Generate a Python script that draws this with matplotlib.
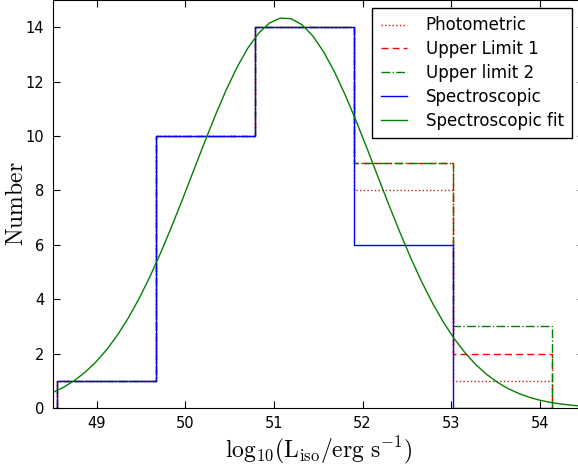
import numpy as np
import matplotlib
matplotlib.use("Agg")
import matplotlib.pyplot as plt

# bin edges in log10(L_iso)
edges = [48.55, 49.67, 50.79, 51.90, 53.02, 54.14]

photometric = [1, 10, 14, 8, 1]
upper_1 = [1, 10, 14, 9, 2]
upper_2 = [1, 10, 14, 9, 3]
spectroscopic = [1, 10, 14, 6, 0]

# gaussian fit to the spectroscopic sample: amplitude, mean, sigma
fit_amp = 14.35
fit_mu = 51.12
fit_sigma = 1.03

plt.rcParams["mathtext.fontset"] = "cm"

fig = plt.figure(figsize=(5.78, 4.66), dpi=100)
ax = fig.add_axes([52.5 / 578, 58 / 466, 531.5 / 578, 408 / 466])

ax.stairs(photometric, edges, baseline=0, color="#c02020", ls=":", lw=1, label="Photometric")
ax.stairs(upper_1, edges, baseline=0, color="red", ls=(0, (5, 3)), lw=1, label="Upper Limit 1")
ax.stairs(upper_2, edges, baseline=0, color="green", ls="-.", lw=1, label="Upper limit 2")
ax.stairs(spectroscopic, edges, baseline=0, color="blue", lw=1, label="Spectroscopic")

xs = np.linspace(48.5, 54.5, 50)
ax.plot(xs, fit_amp * np.exp(-(xs - fit_mu) ** 2 / (2 * fit_sigma ** 2)),
        color="green", lw=1, label="Spectroscopic fit")

ax.set_xlim(48.5, 54.5)
ax.set_ylim(0, 15)
ax.set_xticks([49, 50, 51, 52, 53, 54])
ax.set_yticks(range(0, 15, 2))
ax.tick_params(direction="in", top=True, right=True, length=5, labelsize=10.5, pad=6)

ax.set_xlabel(r"$\mathrm{log_{10}(L_{iso}/erg\ s^{-1})}$", fontsize=17, labelpad=2)
ax.set_ylabel(r"$\mathrm{Number}$", fontsize=17, labelpad=-2)

leg = ax.legend(loc="upper right", bbox_to_anchor=(572 / 578, 1 - 8 / 466),
                bbox_transform=fig.transFigure, fontsize=12, fancybox=False,
                framealpha=1, edgecolor="black", handlelength=1.6, handletextpad=1.1,
                borderaxespad=0, labelspacing=0.35, borderpad=0.5)
leg.get_frame().set_linewidth(1)

fig.savefig("out.png", dpi=100)
